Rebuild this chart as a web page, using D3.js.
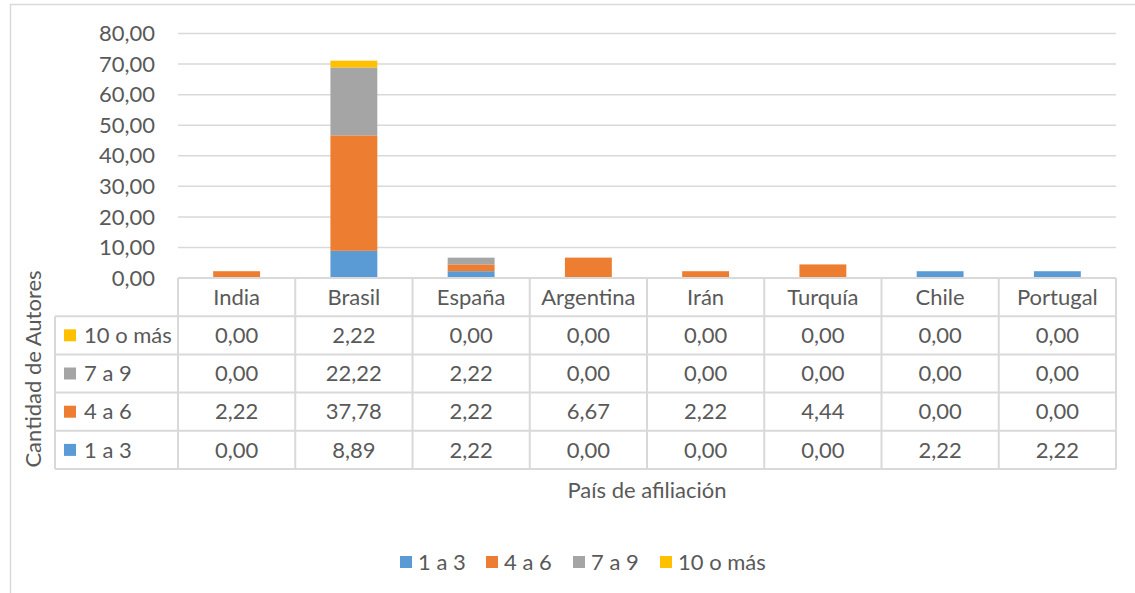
<!DOCTYPE html>
<html>
<head>
<meta charset="utf-8">
<script src="https://cdn.jsdelivr.net/npm/d3@7"></script>
<style>
  body { margin: 0; background: #fff; }
  text { font-family: Lato, "Open Sans", sans-serif; fill: #595959; }
</style>
</head>
<body>
<svg id="chart" width="1135" height="593"></svg>
<script>
// data
var paises = ['India', 'Brasil', 'España', 'Argentina', 'Irán', 'Turquía', 'Chile', 'Portugal'];
var serie1a3 = [0, 8.89, 2.22, 0, 0, 0, 2.22, 2.22];
var serie4a6 = [2.22, 37.78, 2.22, 6.67, 2.22, 4.44, 0, 0];
var serie7a9 = [0, 22.22, 2.22, 0, 0, 0, 0, 0];
var serie10mas = [0, 2.22, 0, 0, 0, 0, 0, 0];
var nombresSeries = ['1 a 3', '4 a 6', '7 a 9', '10 o más'];
var colores = ['#5B9BD5', '#ED7D31', '#A5A5A5', '#FFC000'];
var ticksY = [0, 10, 20, 30, 40, 50, 60, 70, 80];

var series = [serie1a3, serie4a6, serie7a9, serie10mas];

var svg = d3.select('#chart');
var fs = 22;
var gridColor = '#D9D9D9';
var fmt = function (v) { return d3.format('.2f')(v).replace('.', ','); };

// chart area border (cut off on right and bottom)
svg.append('rect')
  .attr('x', 10.5).attr('y', 4.5)
  .attr('width', 1140).attr('height', 600)
  .attr('fill', 'none')
  .attr('stroke', gridColor)
  .attr('stroke-width', 1.5);

var plotLeft = 178, plotRight = 1116, plotTop = 33.5, plotBottom = 278;

var x = d3.scaleBand().domain(paises).range([plotLeft, plotRight]).padding(0);
var y = d3.scaleLinear().domain([0, 80]).range([plotBottom, plotTop]);

// gridlines
svg.append('g').selectAll('line')
  .data(ticksY)
  .enter().append('line')
  .attr('x1', plotLeft).attr('x2', plotRight)
  .attr('y1', function (d) { return y(d); })
  .attr('y2', function (d) { return y(d); })
  .attr('stroke', gridColor)
  .attr('stroke-width', 1.5);

// y tick labels
svg.append('g').selectAll('text')
  .data(ticksY)
  .enter().append('text')
  .attr('x', 155)
  .attr('y', function (d) { return y(d); })
  .attr('dy', '0.35em')
  .attr('text-anchor', 'end')
  .style('font-size', fs + 'px')
  .text(fmt);

// stacked bars
var filas = paises.map(function (p, i) {
  var o = { pais: p };
  nombresSeries.forEach(function (s, j) { o[s] = series[j][i]; });
  return o;
});
var stack = d3.stack().keys(nombresSeries)(filas);
var barW = x.bandwidth() * 0.4;

svg.append('g').selectAll('g')
  .data(stack)
  .enter().append('g')
  .attr('fill', function (d, i) { return colores[i]; })
  .selectAll('rect')
  .data(function (d) { return d; })
  .enter().append('rect')
  .attr('x', function (d) { return x(d.data.pais) + (x.bandwidth() - barW) / 2; })
  .attr('width', barW)
  .attr('y', function (d) { return y(d[1]); })
  .attr('height', function (d) { return y(d[0]) - y(d[1]); });

// data table
var rowH = 38.2;
var tableLeft = 55;
var filasTabla = [3, 2, 1, 0]; // series order top to bottom
var tabla = svg.append('g');

// header row
tabla.selectAll('text.head')
  .data(paises)
  .enter().append('text')
  .attr('class', 'head')
  .attr('x', function (d) { return x(d) + x.bandwidth() / 2; })
  .attr('y', plotBottom + rowH / 2)
  .attr('dy', '0.35em')
  .attr('text-anchor', 'middle')
  .style('font-size', fs + 'px')
  .text(function (d) { return d; });

filasTabla.forEach(function (si, r) {
  var yc = plotBottom + rowH * (r + 1) + rowH / 2;
  tabla.append('rect')
    .attr('x', 64).attr('y', yc - 6)
    .attr('width', 12).attr('height', 12)
    .attr('fill', colores[si]);
  tabla.append('text')
    .attr('x', 84).attr('y', yc)
    .attr('dy', '0.35em')
    .style('font-size', fs + 'px')
    .text(nombresSeries[si]);
  tabla.selectAll(null)
    .data(series[si])
    .enter().append('text')
    .attr('x', function (d, i) { return x(paises[i]) + x.bandwidth() / 2; })
    .attr('y', yc)
    .attr('dy', '0.35em')
    .attr('text-anchor', 'middle')
    .style('font-size', fs + 'px')
    .text(fmt);
});

// table lines
var lineas = tabla.append('g')
  .attr('stroke', gridColor)
  .attr('stroke-width', 2)
  .attr('fill', 'none');
var tableBottom = plotBottom + rowH * 5;
lineas.append('line')
  .attr('x1', plotLeft).attr('x2', plotRight)
  .attr('y1', plotBottom).attr('y2', plotBottom);
d3.range(1, 6).forEach(function (r) {
  lineas.append('line')
    .attr('x1', tableLeft).attr('x2', plotRight)
    .attr('y1', plotBottom + rowH * r).attr('y2', plotBottom + rowH * r);
});
lineas.append('line')
  .attr('x1', tableLeft).attr('x2', tableLeft)
  .attr('y1', plotBottom + rowH).attr('y2', tableBottom);
paises.forEach(function (p) {
  lineas.append('line')
    .attr('x1', x(p)).attr('x2', x(p))
    .attr('y1', plotBottom).attr('y2', tableBottom);
});
lineas.append('line')
  .attr('x1', plotRight).attr('x2', plotRight)
  .attr('y1', plotBottom).attr('y2', tableBottom);

// axis titles
svg.append('text')
  .attr('x', (plotLeft + plotRight) / 2)
  .attr('y', 490)
  .attr('dy', '0.35em')
  .attr('text-anchor', 'middle')
  .style('font-size', fs + 'px')
  .text('País de afiliación');

svg.append('text')
  .attr('transform', 'translate(33,369) rotate(-90)')
  .attr('dy', '0.35em')
  .attr('text-anchor', 'middle')
  .style('font-size', fs + 'px')
  .text('Cantidad de Autores');

// legend
var legX = [400, 486, 573, 660];
var leyenda = svg.append('g').selectAll('g')
  .data(nombresSeries)
  .enter().append('g')
  .attr('transform', function (d, i) { return 'translate(' + legX[i] + ',562)'; });
leyenda.append('rect')
  .attr('x', 0).attr('y', -6)
  .attr('width', 12).attr('height', 12)
  .attr('fill', function (d, i) { return colores[i]; });
leyenda.append('text')
  .attr('x', 18)
  .attr('dy', '0.35em')
  .style('font-size', fs + 'px')
  .text(function (d) { return d; });
</script>
</body>
</html>
